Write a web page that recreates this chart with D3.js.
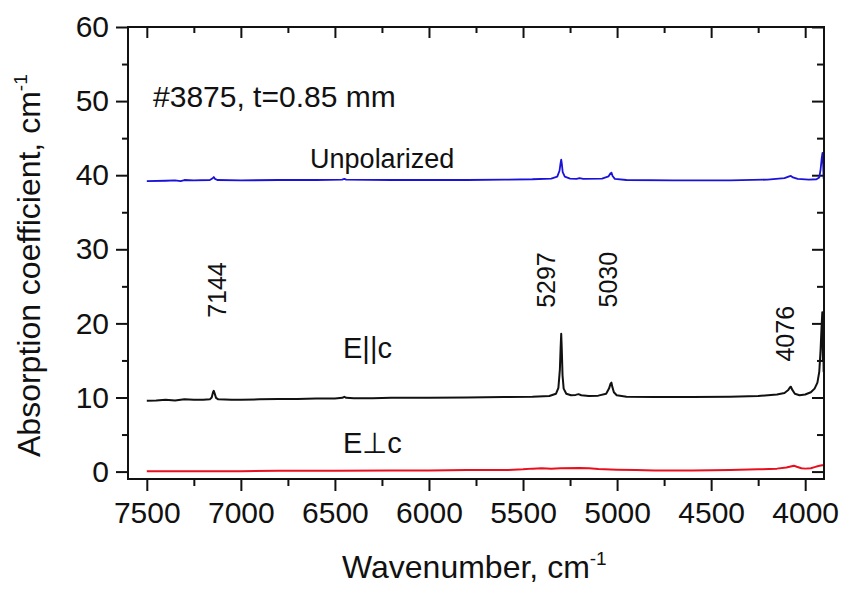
<!DOCTYPE html>
<html>
<head>
<meta charset="utf-8">
<script src="https://cdn.jsdelivr.net/npm/d3@7/dist/d3.min.js"></script>
<style>
    body { margin: 0; background: #fff; }
    text { font-family: "Liberation Sans", Arial, Helvetica, sans-serif; fill: #111; }
</style>
</head>
<body>
<div id="chart_div"></div>
<script>
// data
/////////////////////////////////

// [wavenumber, absorption coefficient]
const unpolarized = [
    [7500, 39.2], [7400, 39.25], [7350, 39.3], [7320, 39.2], [7300, 39.35], [7250, 39.3],
    [7165, 39.35], [7152, 39.55], [7144, 39.75], [7137, 39.5], [7125, 39.35], [7000, 39.3],
    [6800, 39.35], [6600, 39.35], [6462, 39.4], [6450, 39.5], [6440, 39.4], [6200, 39.35],
    [6000, 39.35], [5800, 39.35], [5600, 39.4], [5450, 39.45], [5350, 39.55], [5318, 39.8],
    [5306, 40.6], [5300, 41.7], [5297, 42.1], [5294, 41.6], [5289, 40.4], [5278, 39.8],
    [5250, 39.55], [5215, 39.5], [5200, 39.6], [5180, 39.5], [5080, 39.55], [5045, 39.85],
    [5035, 40.25], [5030, 40.35], [5024, 39.9], [5012, 39.5], [4950, 39.35], [4700, 39.3],
    [4400, 39.3], [4200, 39.4], [4110, 39.6], [4085, 39.85], [4076, 39.9], [4065, 39.7],
    [4040, 39.5], [3980, 39.4], [3940, 39.45], [3925, 39.7], [3918, 40.8], [3912, 42.3],
    [3908, 43.0], [3905, 41.8], [3902, 39.6], [3900, 39.4]
];

const e_parallel = [
    [7500, 9.55], [7450, 9.6], [7400, 9.7], [7350, 9.6], [7300, 9.75], [7250, 9.7],
    [7200, 9.7], [7165, 9.75], [7155, 10.0], [7148, 10.7], [7144, 10.9], [7140, 10.6],
    [7132, 9.95], [7120, 9.75], [7050, 9.7], [7000, 9.7], [6900, 9.75], [6800, 9.8],
    [6700, 9.8], [6600, 9.85], [6500, 9.85], [6460, 9.95], [6450, 10.1], [6440, 9.95],
    [6400, 9.9], [6300, 9.9], [6200, 9.95], [6000, 9.95], [5800, 10.0], [5600, 10.05],
    [5450, 10.1], [5360, 10.2], [5325, 10.5], [5312, 11.3], [5304, 13.8], [5300, 16.8],
    [5297, 18.6], [5294, 16.5], [5290, 13.0], [5284, 11.2], [5270, 10.5], [5245, 10.3],
    [5220, 10.35], [5205, 10.45], [5190, 10.3], [5150, 10.2], [5100, 10.25], [5058, 10.5],
    [5043, 11.2], [5034, 11.9], [5030, 12.0], [5026, 11.5], [5017, 10.7], [5002, 10.3],
    [4950, 10.1], [4800, 10.05], [4600, 10.05], [4400, 10.1], [4250, 10.2], [4150, 10.4],
    [4110, 10.6], [4090, 11.0], [4080, 11.4], [4076, 11.45], [4070, 11.1], [4055, 10.5],
    [4030, 10.3], [4000, 10.4], [3970, 10.7], [3950, 11.2], [3935, 12.0], [3925, 13.5],
    [3918, 16.5], [3913, 19.5], [3909, 21.5], [3906, 15.0], [3904, 21.0], [3902, 13.5],
    [3900, 18.0]
];

const e_perp = [
    [7500, 0.05], [7300, 0.05], [7000, 0.05], [6800, 0.1], [6500, 0.1], [6200, 0.15],
    [6000, 0.15], [5800, 0.2], [5600, 0.2], [5500, 0.3], [5450, 0.4], [5400, 0.45],
    [5350, 0.4], [5300, 0.45], [5200, 0.5], [5150, 0.45], [5100, 0.35], [5000, 0.25],
    [4900, 0.2], [4800, 0.15], [4600, 0.15], [4400, 0.2], [4250, 0.3], [4150, 0.4],
    [4100, 0.55], [4060, 0.8], [4045, 0.65], [4020, 0.45], [4000, 0.4], [3970, 0.45],
    [3950, 0.6], [3930, 0.75], [3910, 0.85], [3900, 0.85]
];

// axis ticks
const x_major = [7500, 7000, 6500, 6000, 5500, 5000, 4500, 4000];
const x_minor = [7250, 6750, 6250, 5750, 5250, 4750, 4250];
const y_major = [0, 10, 20, 30, 40, 50, 60];
const y_minor = [5, 15, 25, 35, 45, 55];

// peak positions and where their labels sit (wavenumber, absorption)
const peak_names = ['7144', '5297', '5030', '4076'];
const peak_label_at = [[7127, 24.5], [5378, 25.85], [5048, 25.9], [4105, 18.6]];

// curve names and sample note (anchored in data units)
const note_texts = ['#3875, t=0.85 mm', 'Unpolarized', 'E||c', 'E\u22A5c'];
const note_at = [[7467, 49.2], [6632, 40.95], [6457, 15.35], [6457, 2.5]];

// layout
/////////////////////////////////
const width = 844;
const height = 590;
const margin = { left: 128, right: 20, top: 27, bottom: 111 };

const svg = d3.select('#chart_div')
    .append('svg')
    .attr('id', 'main_svg')
    .attr('width', width)
    .attr('height', height);

const x = d3.scaleLinear()
    .domain([7600, 3900])
    .range([margin.left, width - margin.right]);

const y = d3.scaleLinear()
    .domain([-1, 60])
    .range([height - margin.bottom, margin.top]);

const x0 = x.range()[0], x1 = x.range()[1];
const y0 = y.range()[0], y1 = y.range()[1];

// axes: major + minor ticks, outward on bottom/left, inward on top/right
function style_axis(g) {
    g.select('.domain').remove();
    g.selectAll('.tick line').attr('stroke', '#111').attr('stroke-width', 2);
    g.selectAll('.tick text').attr('font-size', 30).attr('fill', '#111');
}

svg.append('g')
    .attr('transform', 'translate(0,' + y0 + ')')
    .call(d3.axisBottom(x).tickValues(x_minor).tickSize(7).tickFormat(''))
    .call(style_axis);

svg.append('g')
    .attr('transform', 'translate(0,' + y0 + ')')
    .call(d3.axisBottom(x).tickValues(x_major).tickSize(12).tickPadding(11).tickFormat(d3.format('d')))
    .call(style_axis);

svg.append('g')
    .attr('transform', 'translate(0,' + y1 + ')')
    .call(d3.axisTop(x).tickValues(x_minor).tickSize(-6).tickFormat(''))
    .call(style_axis);

svg.append('g')
    .attr('transform', 'translate(0,' + y1 + ')')
    .call(d3.axisTop(x).tickValues(x_major).tickSize(-11).tickFormat(''))
    .call(style_axis);

svg.append('g')
    .attr('transform', 'translate(' + x0 + ',0)')
    .call(d3.axisLeft(y).tickValues(y_minor).tickSize(6).tickFormat(''))
    .call(style_axis);

svg.append('g')
    .attr('transform', 'translate(' + x0 + ',0)')
    .call(d3.axisLeft(y).tickValues(y_major).tickSize(12).tickPadding(7).tickFormat(d3.format('d')))
    .call(style_axis);

svg.append('g')
    .attr('transform', 'translate(' + x1 + ',0)')
    .call(d3.axisRight(y).tickValues(y_minor).tickSize(-7).tickFormat(''))
    .call(style_axis);

svg.append('g')
    .attr('transform', 'translate(' + x1 + ',0)')
    .call(d3.axisRight(y).tickValues(y_major).tickSize(-12).tickFormat(''))
    .call(style_axis);

// spectra
/////////////////////////////////
const line = d3.line()
    .x(function (d) { return x(d[0]); })
    .y(function (d) { return y(d[1]); });

const series = [
    { data: e_perp, color: '#e8101e', width: 2 },
    { data: e_parallel, color: '#111', width: 2 },
    { data: unpolarized, color: '#1a12d8', width: 1.8 }
];

svg.append('g')
    .selectAll('path')
    .data(series)
    .enter()
    .append('path')
    .attr('d', function (d) { return line(d.data); })
    .attr('fill', 'none')
    .attr('stroke', function (d) { return d.color; })
    .attr('stroke-width', function (d) { return d.width; })
    .attr('stroke-linejoin', 'round');

// frame
svg.append('rect')
    .attr('x', x0)
    .attr('y', y1)
    .attr('width', x1 - x0)
    .attr('height', y0 - y1)
    .attr('fill', 'none')
    .attr('stroke', '#111')
    .attr('stroke-width', 2);

// peak labels, rotated
svg.append('g')
    .selectAll('text')
    .data(peak_names)
    .enter()
    .append('text')
    .attr('transform', function (d, i) {
        let p = peak_label_at[i];
        return 'translate(' + x(p[0]) + ',' + y(p[1]) + ') rotate(-90)';
    })
    .attr('text-anchor', 'middle')
    .attr('dy', '0.36em')
    .attr('font-size', 25)
    .text(function (d) { return d; });

// notes
const note_size = [30, 27, 29, 29];
svg.append('g')
    .selectAll('text')
    .data(note_texts)
    .enter()
    .append('text')
    .attr('x', function (d, i) { return x(note_at[i][0]); })
    .attr('y', function (d, i) { return y(note_at[i][1]); })
    .attr('font-size', function (d, i) { return note_size[i]; })
    .text(function (d) { return d; });

// axis titles
let x_title = svg.append('text')
    .attr('x', 342)
    .attr('y', 578)
    .attr('font-size', 32);
x_title.append('tspan').text('Wavenumber, cm');
x_title.append('tspan').attr('font-size', 19).attr('dy', -13).text('-1');

let y_title = svg.append('text')
    .attr('transform', 'translate(40,457) rotate(-90)')
    .attr('font-size', 32);
y_title.append('tspan').text('Absorption coefficient, cm');
y_title.append('tspan').attr('font-size', 19).attr('dy', -13).text('-1');
</script>
</body>
</html>
